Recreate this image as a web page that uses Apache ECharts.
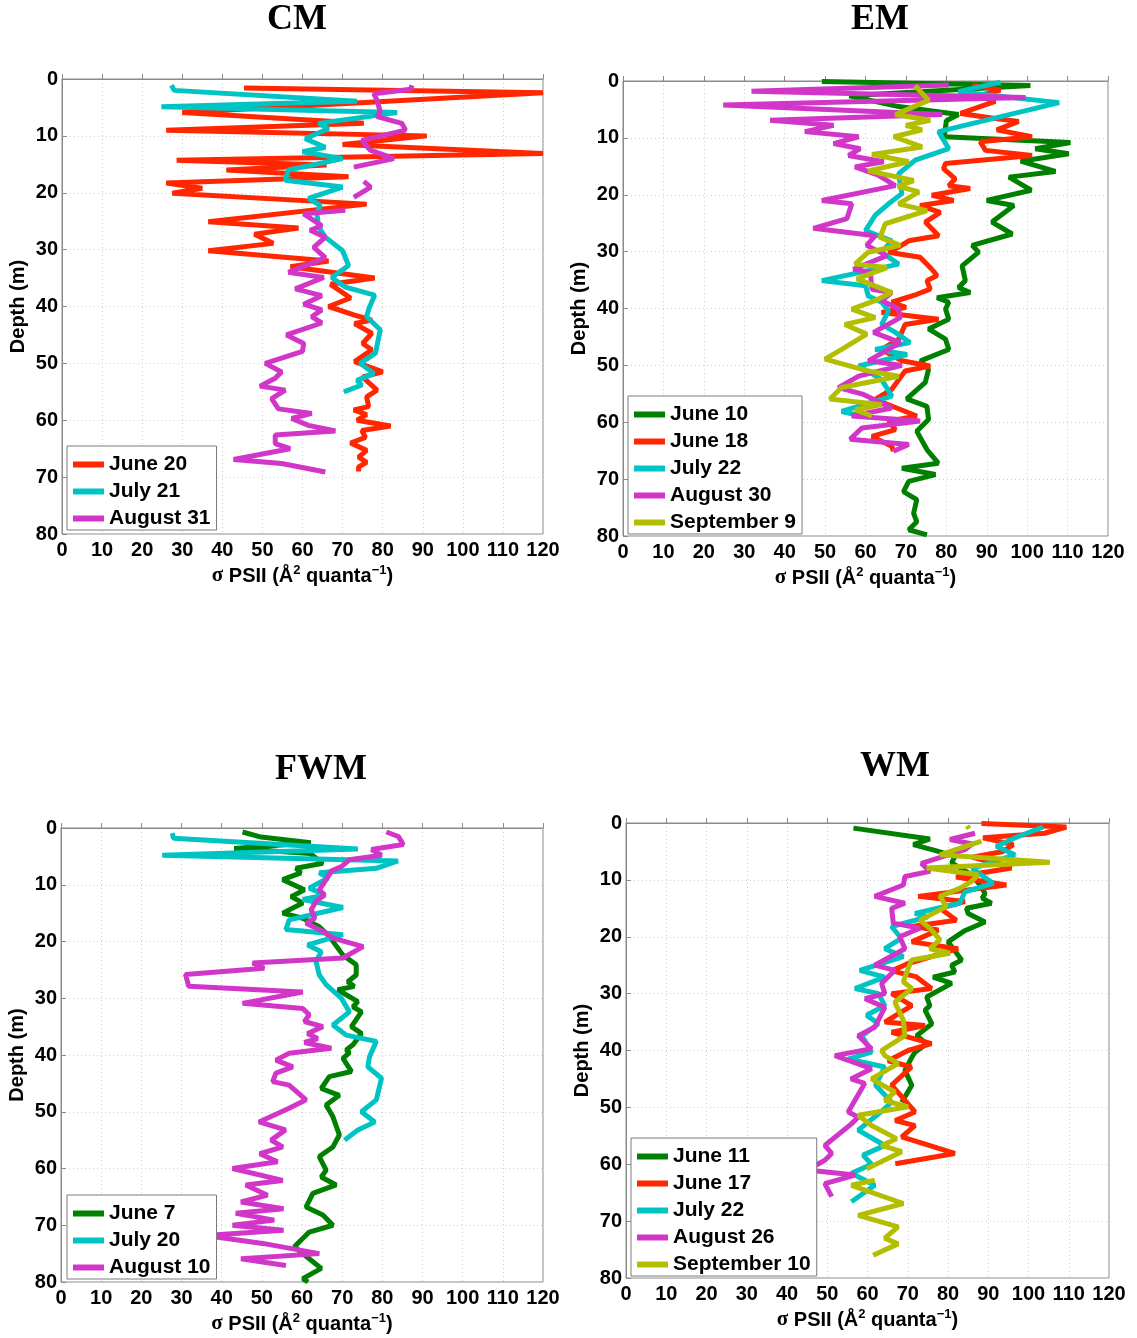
<!DOCTYPE html>
<html>
<head>
<meta charset="utf-8">
<script src="https://cdn.jsdelivr.net/npm/echarts@6/dist/echarts.min.js"></script>
<style>
  html, body { margin: 0; padding: 0; background: #fff; }
  #main { width: 1137px; height: 1338px; }
</style>
</head>
<body>
<div id="main"></div>
<script>
// sigma PSII vs depth profiles, [sigma, depth]; null = gap in the cast
var panels = ['CM', 'EM', 'FWM', 'WM'];
var xTicks = [0, 120, 10];
var yTicks = [0, 80, 10];

// CM
var cmJune20 = [[45.4,1.6],[120,2.4],[30,5.9],[75.3,7.8],[26,9.0],[91,10.0],[70,11.5],[120,13.1],[28.6,14.3],[66,15.1],[41,16],[71.5,17.2],[26,18.3],[35,19.2],[27.5,20.1],[76,22],[36.5,25.1],[59,26.2],[48,27.3],[52.7,28.9],[36.5,30.2],[66.5,32],[57,33],[78,35],[67,36.1],[72,38.5],[66.5,40],[73,41.5],[77.3,42.4],[73,43],[77.3,44.7],[75,46.5],[77.3,47.6],[73,49.7],[80,51.5],[75,52.4],[78.6,54.7],[76,55.9],[76.5,57.6],[72.8,58.2],[76,59],[73.6,60],[82,61],[74.8,61.8],[75.7,63],[72,64],[76,65.3],[74,66.5],[76,67.4],[74,68.2],[74,69]];
var cmJuly21 = [[27.3,1.1],[28,2],[73.6,3.9],[24.8,4.9],[83.6,5.9],[64,7.8],[66.5,8.7],[60.7,10.5],[65.7,12],[60,12.8],[70,14],[56.5,16],[55.7,17.8],[70,19],[61.5,21],[64.4,22.2],[63.6,23.7],[64,26],[65.7,27.8],[70,30.2],[71.5,32.8],[67.3,34.9],[70.7,36.6],[78,38],[76.5,40.5],[76,41.8],[79.4,44.1],[78.2,48.2],[74.4,50],[77.8,51.8],[73.6,53],[74.8,53.8],[70.3,55]];
var cmAugust31 = [[87.3,1.1],[87,1.8],[77.8,2.6],[78.6,3.7],[79.4,5.8],[78.6,6.6],[84.8,7.8],[85.7,9],[74.8,10.8],[76.9,12.5],[82.8,14],[72.8,15.5],null,[75.3,18],[77,19],[72.8,20.8],null,[70.7,23.1],[60.3,23.7],[64.8,25.8],[61.9,26.6],[65.7,27.8],[62.8,29.6],[65.7,31.4],[56.5,34],[65.3,34.9],[58.2,36.9],[64.8,38.1],[60.3,39.6],[64.8,40.6],[62.3,41.8],[64.8,42.9],[56,45],[60.3,46.5],[60,47.9],[50.7,50],[54.8,51.5],[53.2,52.6],[49.4,54],[55.7,54.7],[52.3,56.2],[54,58],[62.3,58.8],[57.3,59.7],[61.5,60.9],[68.2,61.9],[53.2,62.6],[53.2,64.1],[56.9,65],[42.8,66.9],[54.8,67.6],[65.7,69.1]];

// EM
var emJune10 = [[49.2,0.1],[100.8,0.8],[56,2.6],[68.2,4.5],[83,5.9],[80,7],[79.5,9.8],[110.7,10.8],[102,11.9],[110.3,12.8],[98.4,14.1],[107,15.9],[95.5,16.9],[101,19.2],[90,21],[96.7,21.9],[91.3,24.8],[96.3,26.9],[86.4,28.9],[88,30.1],[83.9,32.5],[84.7,35.1],[83,36.3],[85.9,37.2],[77.7,38.1],[80.6,38.9],[79.8,40.1],[80.6,41.9],[75.6,43.6],[79.8,45.4],[80.6,47.2],[73.6,49.2],[75.6,50.7],[74.8,53],[70.2,55.9],[75.2,57.2],[75.6,59.5],[72.7,61.6],[75.2,64.8],[78,67.2],[69,68.1],[77.3,69.2],[70.7,70.4],[69.4,72.2],[72.7,73.6],[71.9,76],[72.7,77.5],[70.7,78.9],[75.2,79.8]];
var emJune18 = [[86.4,0.7],[93.4,1.6],[88,2.6],[92.1,3.6],[83.5,5.7],[92.1,6.6],[97.9,7.1],[92.5,8.6],[101.2,9.8],[88.4,10.7],[89.7,12.2],[101.2,13.1],[79.8,14.5],[79.3,15.4],[82.2,17.2],[80.6,18.4],[85.9,18.9],[76.4,20.1],[81.8,21],[73.5,21.9],[78.5,23.1],[74.8,24.8],[78.1,27.2],[70.7,28.1],[68.2,29.2],[65.7,30.1],[73.5,31],[76.4,33.1],[77.7,34.2],[75.2,35.1],[76,36.6],[72.7,37.5],[66.5,38.9],[70,39.8],[64,40.7],[78.1,41.9],[69.8,42.8],[68.2,45.4],[64,47.2],[69,49.2],[76,50.1],[69.8,51],[66.5,54.2],[62.4,56],[72.7,58.9],[65.7,59.8],[67.4,61.3],[61.6,62.5],[66.5,64.2],[66.9,65.1]];
var emJuly22 = [[93.4,0.2],[83,1.9],[107.9,3.8],[78.1,8.9],[80.6,11.9],[72.3,13.9],[68.2,16.3],[69,19.8],[65.7,21.6],[62.4,23.6],[60,26.3],[66.5,28.1],[64,30.1],[68.2,32.2],[49.2,35.1],[60,36],[60.7,37.8],[64,38.9],[65.7,40.4],[64,42.8],[67.4,44.2],[71,46],[62.4,47.2],[70.3,48.1],[58.3,50.1],[64,52.5],[66.5,55.4],[62.4,56.3],[54.1,58.1],[59.1,58.9]];
var emAugust30 = [[80.6,0.7],[31.8,1.8],[99.6,2.9],[24.8,4.2],[79,5.9],[36.4,6.9],[52.1,7.8],[45,8.9],[58.3,9.8],[52.1,11],[58.7,11.9],[55.8,13.1],[64.5,14.2],[57.4,15.1],[63,16.5],[67.4,18.4],[49.2,21],[56.6,21.6],[55.4,24.2],[47.1,25.9],[62.4,27.2],[60.3,28.9],[65.3,30.7],[57,33.1],[61.2,33.6],[61.6,36.6],[66.5,37.2],[64,38.6],[68.2,40.1],[68.6,41.6],[62,44.2],[68.6,46],[60.7,49.2],[69,50],[58.3,51.9],[53.3,53.9],[59.5,55.1],[66.5,57.5],[56.6,58.9],[73.5,59.8],[59.1,61],[56.2,63],[70.7,63.9],[66.9,65.1]];
var emSeptember9 = [[72.3,0.8],[75.6,3.4],[67.4,5.9],[76,6.9],[70,7.8],[74,8.6],[67,9.8],[74,11.6],[61.6,12.9],[70.7,14.2],[60.7,15.8],[71.9,17.5],[68,18.5],[73.2,19.5],[68.2,21.6],[75.2,22.8],[64.9,25.1],[63.6,27.5],[68.6,28.9],[60.7,30.1],[57.4,32.2],[65.3,32.8],[57.9,34.8],[66.5,37.2],[62.4,38.6],[56.6,40.1],[62.4,41.6],[54.9,42.8],[60.3,44.5],[54.1,47.2],[50,48.9],[60.7,51],[68.2,51.9],[54.1,53.9],[51.2,55.9],[64,56.9],[57.4,57.8],[61.6,58.9]];

// FWM
var fwmJune7 = [[45.2,0.7],[49.8,1.6],[62.2,2.6],[43.1,3.6],[62,4.5],[65.2,6.2],[58.5,7.1],[59.7,7.9],[55.2,9.1],[60.6,10.9],[57.3,12.1],[60.2,13.2],[55.2,15],[60.2,15.9],[64.3,17.4],[66.8,19.1],[70.2,22.4],[73.5,24.1],[73.5,25.9],[71.4,27.1],[73,27.9],[68.9,28.5],[73.9,30.6],[72.7,31.5],[74.8,32.4],[72.3,35],[74.8,36.2],[72.7,38.2],[71,39.1],[71.8,39.6],[70.2,40.6],[72.3,42.9],[66.8,43.8],[64.8,45.9],[69.3,47.1],[66,48.8],[67.7,50.9],[69.3,54.1],[67.7,56.2],[64.3,57.9],[66,60.3],[64.8,61.5],[68.5,62.9],[62.7,64.4],[61,66.8],[65.2,68.2],[67.7,70],[61.8,71.2],[58.1,73.8],[61.8,75.9],[64.8,77.6],[60.2,79.4],[61.5,80]];
var fwmJuly20 = [[27.7,0.9],[28,1.8],[73.9,3.7],[25.2,4.8],[83.9,5.8],[78.5,7.1],[64.3,7.9],[66.5,8.8],[61.8,10.6],[65.8,11.8],[60.2,12.6],[70.2,14],[56.8,16.2],[56,17.9],[70.2,18.8],[61.4,20.6],[64.8,21.8],[63.5,23.5],[64.3,25.9],[66,27.6],[69.8,30],[71.8,32.4],[67.7,34.7],[71,36.5],[78.5,37.6],[76.8,40.3],[76.4,42.1],[79.8,44.1],[78.5,47.9],[74.8,50],[78.1,51.8],[73.9,53.2],[70.6,55]];
var fwmAugust10 = [[81,0.7],[84,1.5],[85.2,2.9],[77.3,3.8],[79.8,4.8],[71.8,5.6],[69.8,6.8],[67.3,7.6],[66,9.1],[64.3,10.9],[65.6,11.8],[63.5,12.9],[62.3,14.4],[63.2,15.9],[61,16.8],[66,18.5],[67.7,19.4],[75.2,20.9],[70.2,22.9],[47.7,23.8],[50.6,24.7],[31,25.8],[31.8,27.9],[60.2,28.9],[45.2,30.9],[60.2,31.8],[61.8,32.9],[60.6,34.1],[65.2,35],[61.4,36.2],[63.9,37.1],[60.6,37.8],[67.3,38.8],[56.8,39.7],[53.5,40.9],[57.7,42.1],[53.5,43.2],[52.7,44.7],[56.8,45.3],[61,47.9],[56.8,49.4],[49.3,51.8],[55.9,53.2],[52.3,55],[55.2,56.2],[49.5,57.4],[53.9,58.8],[42.7,60],[55.2,62.1],[46,62.9],[51.4,64.7],[44.8,65.9],[55.4,67.1],[43.5,67.9],[53.1,69.1],[42.7,70],[55.4,70.9],[36,71.8],[50.2,73.2],[64.3,75],[44.8,75.9],[56,77.1]];

// WM
var wmJune11 = [[56.5,0.9],[75.5,2.8],[71.4,3.8],[77.6,5],[81.7,5.9],[80.9,7],[85.8,9.1],[88,10.9],[89.2,12.4],[88.5,13.2],[90.8,14.1],[84.6,15],[85,15.9],[89.2,17.4],[84,19],[80,20.9],[83.4,24.1],[80.9,25],[81.7,26.2],[76.3,27.1],[80.9,28.2],[74.7,30.6],[75.5,32.1],[74.3,32.9],[76,35.3],[72.2,37.4],[74.7,38.8],[71.8,40.3],[71,41.2],[69.3,43.5],[71,46.1],[68.5,49.1]];
var wmJune17 = [[88.3,0.1],[109.4,0.7],[104,1.8],[88.7,2.6],[96.2,3.8],[93.7,5],[86,6],[95.8,7.9],[82,9.5],[94.5,10.9],[72.6,12.9],[84.2,13.8],[78,15],[82.1,17.1],[71,18.2],[77.6,18.8],[71,20.9],[82.5,22.1],[70.1,24.7],[66,26],[72,27],[75.9,29.1],[66,30],[71,32.1],[64.3,35],[74.3,35.6],[66,36.8],[75.9,38.8],[70.1,40],[65.1,41.8],[70.9,42.9],[66,46.1],[71.8,50.8],[66.9,52.3],[71.8,53.2],[68.5,55.2],[81.7,58.1],[66.9,59.9]];
var wmJuly22 = [[103.6,0.7],[97,2.5],[92,4.1],[96.6,5.6],[86,8],[91.2,10.6],[84.2,12.1],[82.9,14.1],[71.8,15.9],[75,16.5],[66,18.2],[68.4,20.3],[64.3,22.1],[68.9,23.5],[58.1,25.9],[64.3,27.1],[56.9,29.1],[62.7,30],[64.3,32.1],[59.8,33.8],[62.7,35.3],[58.6,37.4],[61,40.3],[55.2,41.5],[64.3,42.9],[62,46.1],[66,49.1],[63,51],[57.7,54],[64.3,56.7],[58.9,58.4],[61,60],[56,61.6],[61.8,63.7],[56,66.6]];
var wmAugust26 = [[86.7,1.8],[80.5,2.9],[86,3.7],[84.2,4.7],[73.4,7.1],[75.5,8.5],[69.3,9.4],[68.9,10.9],[61.8,12.9],[69.3,14.1],[66,15],[66.4,17.6],[73,18.5],[68,20],[69.3,22.1],[61.8,25],[66.8,25.9],[63.5,28.2],[64.3,30],[59.4,30.9],[64.3,32.4],[61.8,35.9],[57.7,37.4],[61,39.7],[51.9,40.9],[61,43.2],[55.9,45],[59.3,45.8],[55.2,50.8],[57.7,51.7],[56,52.9],[49.4,56.7],[51.1,58.1],[49.4,59.3],[45,61],[56.9,61.9],[49.4,63.4],[51.1,65.7]];
var wmSeptember10 = [[84.8,0.5],[85.2,1.0],null,[88.3,3.2],[78,5.6],[105.3,6.9],[74.7,7.9],[87.5,9.1],[85.8,10.3],[82.9,11.5],[78,12.9],[79.6,14.7],[73,17.1],[75.5,18.5],[78,20.5],[75.5,22.1],[80.5,22.9],[71,24.1],[70.1,25.6],[68.9,27.9],[71,29.1],[66.8,31.5],[68.9,34.7],[69.3,37.4],[63.5,40],[64.3,40.9],[67.6,42.3],[61,45],[66.8,47.3],[64.3,48.8],[70.1,49.9],[57.7,51.4],[61,53.2],[67.2,55.5],[63.5,56.7],[68.5,57.8],[59.8,60.8],null,[61.8,62.8],[56,63.7],[68.9,66.9],[57.7,69],[67.6,71],[64.3,73],[67.6,74],[61.4,76]];

var GREEN = '#008000', RED = '#ff2600', CYAN = '#00c4c4', MAGENTA = '#d236c8', OLIVE = '#b4be00';

var profiles = [
  [0, 'June 20', cmJune20, RED],
  [0, 'July 21', cmJuly21, CYAN],
  [0, 'August 31', cmAugust31, MAGENTA],
  [1, 'June 10', emJune10, GREEN],
  [1, 'June 18', emJune18, RED],
  [1, 'July 22', emJuly22, CYAN],
  [1, 'August 30', emAugust30, MAGENTA],
  [1, 'September 9', emSeptember9, OLIVE],
  [2, 'June 7', fwmJune7, GREEN],
  [2, 'July 20', fwmJuly20, CYAN],
  [2, 'August 10', fwmAugust10, MAGENTA],
  [3, 'June 11', wmJune11, GREEN],
  [3, 'June 17', wmJune17, RED],
  [3, 'July 22', wmJuly22, CYAN],
  [3, 'August 26', wmAugust26, MAGENTA],
  [3, 'September 10', wmSeptember10, OLIVE]
];

var grids = [
  {left: 62, top: 79, width: 481, height: 455},
  {left: 623, top: 81, width: 485, height: 455},
  {left: 61, top: 828, width: 482, height: 454},
  {left: 626, top: 823, width: 483, height: 455}
];
var titlePos = [[297, 20], [880, 20], [321, 770], [895, 767]];
var legendPos = [[67, 446], [628, 396], [67, 1195], [631, 1138]];

var FONT = '"Liberation Sans", Arial, sans-serif';
var AXIS_GREY = '#8a8a8a';

var chart = echarts.init(document.getElementById('main'));

var xAxes = [], yAxes = [], series = [], legends = [], titles = [];

grids.forEach(function (g, i) {
  g.show = true;
  g.borderColor = AXIS_GREY;
  g.borderWidth = 1;
  g.backgroundColor = '#fff';

  xAxes.push({
    gridIndex: i, type: 'value',
    min: xTicks[0], max: xTicks[1], interval: xTicks[2],
    axisLine: {show: true, lineStyle: {color: AXIS_GREY}},
    axisTick: {show: true, inside: true, length: 5, lineStyle: {color: AXIS_GREY}},
    axisLabel: {color: '#000', fontFamily: FONT, fontWeight: 'bold', fontSize: 20, margin: 6},
    splitLine: {show: true, lineStyle: {color: '#cfcfcf', type: [1, 3]}},
    name: '{s|σ} PSII (Å{sup|2} quanta{sup|−1})',
    nameLocation: 'middle', nameGap: 30,
    nameTextStyle: {
      color: '#000', fontFamily: FONT, fontWeight: 'bold', fontSize: 20, lineHeight: 24,
      rich: {
        s: {fontFamily: '"Liberation Serif", serif', fontSize: 21, color: '#000', lineHeight: 24},
        sup: {fontFamily: FONT, fontWeight: 'bold', fontSize: 13, color: '#000', lineHeight: 13, verticalAlign: 'top'}
      }
    }
  });
  yAxes.push({
    gridIndex: i, type: 'value', inverse: true,
    min: yTicks[0], max: yTicks[1], interval: yTicks[2],
    axisLine: {show: true, lineStyle: {color: AXIS_GREY}},
    axisTick: {show: true, inside: true, length: 5, lineStyle: {color: AXIS_GREY}},
    axisLabel: {color: '#000', fontFamily: FONT, fontWeight: 'bold', fontSize: 20, margin: 4},
    splitLine: {show: true, lineStyle: {color: '#cfcfcf', type: [1, 3]}},
    name: 'Depth (m)', nameLocation: 'middle', nameGap: 34, nameRotate: 90,
    nameTextStyle: {color: '#000', fontFamily: FONT, fontWeight: 'bold', fontSize: 20}
  });
  titles.push({
    type: 'text', x: titlePos[i][0], y: titlePos[i][1],
    style: {text: panels[i], font: 'bold 36px "Liberation Serif", "Times New Roman", serif',
      fill: '#000', textAlign: 'center', textVerticalAlign: 'middle'}
  });
  legends.push({
    left: legendPos[i][0], top: legendPos[i][1], orient: 'vertical',
    data: profiles.filter(function (p) { return p[0] === i; }).map(function (p) { return p[1]; }),
    icon: 'rect', itemWidth: 31, itemHeight: 6, itemGap: 6,
    padding: [8, 6, 1, 6],
    backgroundColor: '#fff', borderColor: '#7a7a7a', borderWidth: 1,
    selectedMode: false,
    textStyle: {color: '#000', fontFamily: FONT, fontWeight: 'bold', fontSize: 21, lineHeight: 21}
  });
});

profiles.forEach(function (p) {
  series.push({
    type: 'line', name: p[1],
    xAxisIndex: p[0], yAxisIndex: p[0],
    data: p[2].map(function (d) { return d ? d : ['-', '-']; }),
    showSymbol: false, symbol: 'none',
    connectNulls: false,
    color: p[3],
    lineStyle: {color: p[3], width: 5},
    itemStyle: {color: p[3]}
  });
});

chart.setOption({
  animation: false,
  backgroundColor: '#fff',
  grid: grids,
  xAxis: xAxes,
  yAxis: yAxes,
  legend: legends,
  graphic: titles,
  series: series
});
</script>
</body>
</html>
